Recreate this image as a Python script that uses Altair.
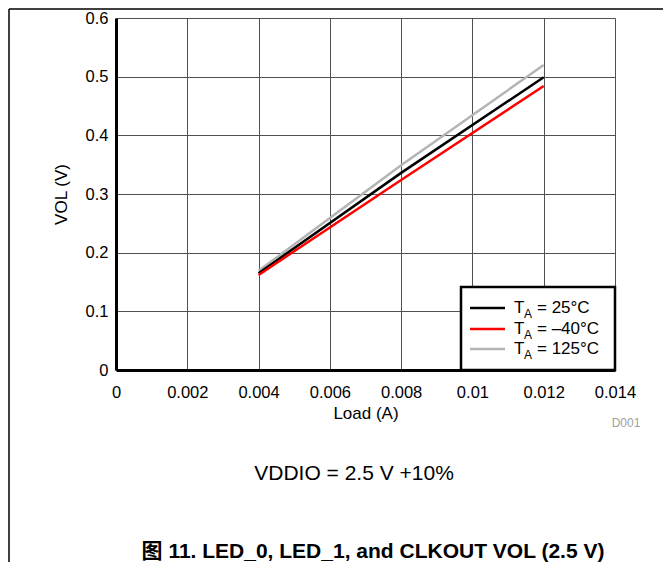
import altair as alt
import pandas as pd

# ---- data ----
load = [0.004, 0.008, 0.012]
vol_25 = [0.165, 0.336, 0.499]
vol_m40 = [0.162, 0.324, 0.484]
vol_125 = [0.169, 0.349, 0.520]

legend_rest = ["= 25°C", "= –40°C", "= 125°C"]
legend_colors = ["#000000", "#ff0000", "#b4b4b4"]

x_ticks = [0, 0.002, 0.004, 0.006, 0.008, 0.01, 0.012, 0.014]
y_ticks = [0, 0.1, 0.2, 0.3, 0.4, 0.5, 0.6]

FONT = "Liberation Sans"
W, H = 499, 352

rows = []
for name, vals in [("125", vol_125), ("25", vol_25), ("-40", vol_m40)]:
    for xv, yv in zip(load, vals):
        rows.append({"load": xv, "vol": yv, "series": name})
df = pd.DataFrame(rows)

xscale = alt.Scale(domain=[0, 0.014], nice=False, zero=False)
yscale = alt.Scale(domain=[0, 0.6], nice=False)

xaxis = alt.Axis(values=x_ticks, title="Load (A)", labelFont=FONT, titleFont=FONT,
                 labelFontSize=16.5, titleFontSize=17, titleFontWeight="normal",
                 labelColor="black", titleColor="black", ticks=False,
                 labelPadding=14, titlePadding=5, domainColor="black", domainWidth=3,
                 gridColor="#505050", gridWidth=1, labelFlush=False,
                 labelExpr="datum.value == 0 ? '0' : format(datum.value, '.3~f')")
yaxis = alt.Axis(values=y_ticks, title="VOL (V)", labelFont=FONT, titleFont=FONT,
                 labelFontSize=16.5, titleFontSize=17, titleFontWeight="normal",
                 labelColor="black", titleColor="black", ticks=False,
                 labelPadding=8, titlePadding=15, domainColor="black", domainWidth=3,
                 gridColor="#505050", gridWidth=1, labelFlush=False,
                 labelExpr="datum.value == 0 ? '0' : format(datum.value, '.1f')")

lines = alt.Chart(df).mark_line(strokeWidth=2.5, clip=True).encode(
    x=alt.X("load:Q", scale=xscale, axis=xaxis),
    y=alt.Y("vol:Q", scale=yscale, axis=yaxis),
    color=alt.Color("series:N", scale=alt.Scale(domain=["125", "25", "-40"],
                                                 range=["#b4b4b4", "#000000", "#ff0000"]), legend=None),
    detail="series:N",
)

# ---- legend (bottom-right box) ----
base = alt.Chart(pd.DataFrame({"a": [0]}))
layers = [lines]
layers.append(base.mark_rect(fill="white", stroke="black", strokeWidth=2.5).encode(
    x=alt.value(345), x2=alt.value(W), y=alt.value(269), y2=alt.value(H)))
row_y = [290, 311, 331]
for i in range(3):
    yy = row_y[i]
    layers.append(base.mark_rule(color=legend_colors[i], strokeWidth=2.5).encode(
        x=alt.value(354), x2=alt.value(389), y=alt.value(yy)))
    layers.append(base.mark_text(text="T", font=FONT, fontSize=17, align="left",
                                 baseline="middle", color="black").encode(
        x=alt.value(398), y=alt.value(yy)))
    layers.append(base.mark_text(text="A", font=FONT, fontSize=12, align="left",
                                 baseline="middle", color="black").encode(
        x=alt.value(408), y=alt.value(yy + 5.5)))
    layers.append(base.mark_text(text=legend_rest[i], font=FONT, fontSize=17, align="left",
                                 baseline="middle", color="black").encode(
        x=alt.value(421), y=alt.value(yy)))

# ---- texts below the chart ----
layers.append(base.mark_text(text="D001", font=FONT, fontSize=12, color="#a0a0a0",
                             align="center", baseline="middle").encode(
    x=alt.value(510), y=alt.value(405)))
layers.append(base.mark_text(text="VDDIO = 2.5 V +10%", font=FONT, fontSize=21, color="black",
                             align="center", baseline="middle").encode(
    x=alt.value(238), y=alt.value(456)))
layers.append(base.mark_text(text="图 11. LED_0, LED_1, and CLKOUT VOL (2.5 V)",
                             font="Liberation Sans, Noto Sans CJK SC", fontSize=21, fontWeight="bold",
                             color="black", align="center", baseline="middle").encode(
    x=alt.value(257), y=alt.value(534)))

# ---- page frame ----
layers.append(base.mark_rule(color="black", strokeWidth=1.5).encode(
    x=alt.value(-107), x2=alt.value(W + 48), y=alt.value(-9)))
layers.append(base.mark_rule(color="black", strokeWidth=1.5).encode(
    x=alt.value(-107), y=alt.value(-9), y2=alt.value(H + 193)))

chart = alt.layer(*layers).properties(
    width=W, height=H,
    autosize=alt.AutoSizeParams(type="none"),
    padding={"left": 108, "top": 10, "right": 48, "bottom": 192},
).configure_view(stroke="black", strokeWidth=2.5).configure(background="white")

chart.save("out.html", embed_options={"renderer": "svg", "actions": False})
